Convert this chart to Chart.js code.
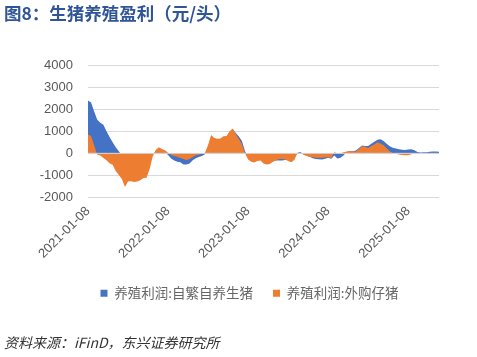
<!DOCTYPE html>
<html>
<head>
<meta charset="utf-8">
<script src="https://cdn.jsdelivr.net/npm/chart.js@4/dist/chart.umd.min.js"></script>
<style>
  html, body { margin: 0; padding: 0; background: #ffffff; }
  #wrap { position: relative; width: 477px; height: 357px; overflow: hidden; }
  #c { position: absolute; left: 0; top: 0; }
  #title { position: absolute; left: 4px; top: 2px; font: bold 17.5px "Noto Sans CJK SC", sans-serif; color: #2f5597; line-height: 22px; white-space: nowrap; }
  #source { position: absolute; left: 4px; top: 332px; font: italic 14px "Noto Sans CJK SC", "Liberation Sans", sans-serif; color: #333333; line-height: 20px; white-space: nowrap; }
</style>
</head>
<body>
<div id="wrap">
  <canvas id="c" width="477" height="357"></canvas>
  <div id="title">图8：生猪养殖盈利（元/头）</div>
  <div id="source">资料来源：iFinD，东兴证券研究所</div>
</div>
<script>
const categories = [
  "2021-01-08","2021-01-22","2021-02-05","2021-02-19","2021-03-05","2021-03-19","2021-04-02","2021-04-16","2021-04-30","2021-05-14","2021-05-28","2021-06-11","2021-06-25","2021-07-09","2021-07-23","2021-08-06","2021-08-20","2021-09-03","2021-09-17","2021-10-01","2021-10-15","2021-10-29","2021-11-12","2021-11-26","2021-12-10","2021-12-24",
  "2022-01-07","2022-01-21","2022-02-04","2022-02-18","2022-03-04","2022-03-18","2022-04-01","2022-04-15","2022-04-29","2022-05-13","2022-05-27","2022-06-10","2022-06-24","2022-07-08","2022-07-22","2022-08-05","2022-08-19","2022-09-02","2022-09-16","2022-09-30","2022-10-14","2022-10-28","2022-11-11","2022-11-25","2022-12-09","2022-12-23",
  "2023-01-06","2023-01-20","2023-02-03","2023-02-17","2023-03-03","2023-03-17","2023-03-31","2023-04-14","2023-04-28","2023-05-12","2023-05-26","2023-06-09","2023-06-23","2023-07-07","2023-07-21","2023-08-04","2023-08-18","2023-09-01","2023-09-15","2023-09-29","2023-10-13","2023-10-27","2023-11-10","2023-11-24","2023-12-08","2023-12-22",
  "2024-01-05","2024-01-19","2024-02-02","2024-02-16","2024-03-01","2024-03-15","2024-03-29","2024-04-12","2024-04-26","2024-05-10","2024-05-24","2024-06-07","2024-06-21","2024-07-05","2024-07-19","2024-08-02","2024-08-16","2024-08-30","2024-09-13","2024-09-27","2024-10-11","2024-10-25","2024-11-08","2024-11-22","2024-12-06","2024-12-20",
  "2025-01-03","2025-01-17","2025-01-31","2025-02-14","2025-02-28","2025-03-14","2025-03-28","2025-04-11","2025-04-25","2025-05-09","2025-05-23"
];

// 养殖利润:自繁自养生猪
const selfBred = [
  2390,2300,1900,1520,1380,1290,1000,740,500,270,90,-100,-300,-450,-450,-500,-500,-450,-400,-350,-250,-50,100,150,100,50,
  -80,-230,-330,-380,-400,-500,-510,-460,-310,-220,-170,-120,-40,300,750,650,620,620,720,750,970,1100,920,760,560,100,
  -150,-250,-280,-250,-220,-350,-400,-380,-350,-330,-330,-330,-300,-300,-320,-250,30,60,-40,-100,-150,-220,-260,-270,-280,-250,
  -200,-250,-100,-230,-200,-100,60,100,100,130,240,350,330,330,430,520,620,640,560,430,320,250,220,190,160,150,
  170,180,140,60,40,50,50,70,80,80,70
];

// 养殖利润:外购仔猪
const purchased = [
  850,780,350,-60,-100,-210,-310,-450,-520,-800,-980,-1160,-1530,-1270,-1260,-1300,-1280,-1220,-1120,-1110,-720,-150,150,280,200,140,
  30,-70,-120,-160,-210,-260,-300,-260,-170,-90,-60,-20,30,380,830,700,660,670,770,780,1000,1120,880,650,420,-10,
  -280,-380,-410,-350,-320,-460,-500,-480,-390,-310,-270,-260,-280,-350,-400,-300,20,40,-60,-120,-170,-180,-200,-200,-200,-190,
  -170,-220,50,0,0,50,80,110,90,80,200,330,300,240,330,400,500,450,370,230,90,0,-20,-50,-70,-90,
  -90,-40,-10,0,0,10,0,10,20,20,20
];

const seriesNames = ["养殖利润:自繁自养生猪", "养殖利润:外购仔猪"];
const tickLabels = ["2021-01-08","2022-01-08","2023-01-08","2024-01-08","2025-01-08"];
const tickIndexes = [0, 26, 52, 78, 104];
const yTicks = [-2000, -1000, 0, 1000, 2000, 3000, 4000];

const gray = "#595959";

const zeroLine = {
  id: "zeroLine",
  afterDatasetsDraw(chart) {
    const y = chart.scales.y.getPixelForValue(0);
    const { left, right } = chart.chartArea;
    const c = chart.ctx;
    c.save();
    c.strokeStyle = "#d9d9d9";
    c.lineWidth = 1;
    c.beginPath();
    c.moveTo(left, y);
    c.lineTo(right, y);
    c.stroke();
    c.restore();
  }
};

const legendShift = {
  id: "legendShift",
  afterLayout(chart) {
    const l = chart.legend;
    if (l) { l.left += 30; l.right += 30; }
  }
};

const ctx = document.getElementById("c").getContext("2d");
new Chart(ctx, {
  type: "line",
  data: {
    labels: categories,
    datasets: [
      { label: seriesNames[0], data: selfBred, order: 1, backgroundColor: "#4472c4", borderColor: "#4472c4",
        borderWidth: 0, pointRadius: 0, fill: "origin", tension: 0 },
      { label: seriesNames[1], data: purchased, order: 0, backgroundColor: "#ed7d31", borderColor: "#ed7d31",
        borderWidth: 0, pointRadius: 0, fill: "origin", tension: 0 }
    ]
  },
  plugins: [zeroLine, legendShift],
  options: {
    responsive: false,
    devicePixelRatio: 1,
    animation: false,
    layout: { padding: { top: 65, left: 0, right: 38, bottom: 47 } },
    plugins: {
      title: { display: false },
      tooltip: { enabled: false },
      legend: {
        display: true,
        position: "bottom",
        labels: {
          boxWidth: 7, boxHeight: 7, padding: 20, color: "#666666",
          font: { family: "'Noto Sans CJK SC', sans-serif", size: 13.5 },
          sort: (a, b) => a.datasetIndex - b.datasetIndex
        }
      }
    },
    scales: {
      x: {
        type: "category",
        offset: false,
        grid: { display: false, drawTicks: false },
        border: { display: false },
        afterFit: (s) => { s.height = 69; },
        ticks: {
          autoSkip: false, minRotation: 45, maxRotation: 45, padding: 6, color: gray,
          font: { family: "'Liberation Sans', Arial, sans-serif", size: 13 },
          callback: function(v, i) { const k = tickIndexes.indexOf(i); return k >= 0 ? tickLabels[k] : null; }
        }
      },
      y: {
        min: yTicks[0], max: yTicks[yTicks.length - 1],
        afterFit: (s) => { s.width = 88; },
        afterBuildTicks: (s) => { s.ticks = yTicks.map(v => ({ value: v })); },
        grid: { color: "#d9d9d9", lineWidth: 1, drawTicks: false },
        border: { display: false },
        ticks: {
          padding: 15, color: gray,
          font: { family: "'Liberation Sans', Arial, sans-serif", size: 13 },
          callback: (v) => String(v)
        }
      }
    }
  }
});
</script>
</body>
</html>
